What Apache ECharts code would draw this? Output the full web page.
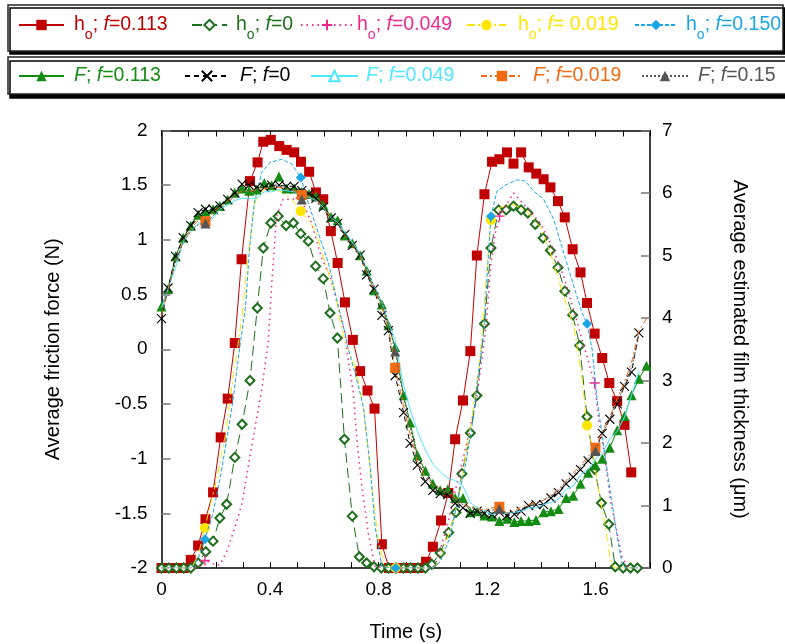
<!DOCTYPE html>
<html><head><meta charset="utf-8">
<script src="https://cdn.jsdelivr.net/npm/echarts@6/dist/echarts.min.js"></script>
<style>html,body{margin:0;padding:0;background:#fff}#c{width:785px;height:644px}</style>
</head><body><div id="c"></div>
<script>
const FONT = "'Liberation Sans', Arial, Helvetica, sans-serif";

// ---------- tick labels ----------
const xTickValues = [0, 0.4, 0.8, 1.2, 1.6];
const xTickLabels = ['0', '0.4', '0.8', '1.2', '1.6'];

// ---------- film thickness h_o (right axis, µm) ----------
const redT = [0,0.027,0.055,0.082,0.108,0.135,0.162,0.19,0.218,0.244,0.27,0.295,0.326,0.354,0.375,0.403,0.434,0.461,0.489,0.514,0.544,0.569,0.596,0.624,0.649,0.676,0.705,0.732,0.759,0.785,0.812,0.838,0.865,0.892,0.92,0.947,0.975,1.0,1.03,1.057,1.082,1.111,1.138,1.162,1.19,1.218,1.245,1.273,1.297,1.325,1.353,1.381,1.408,1.433,1.461,1.486,1.515,1.544,1.568,1.596,1.624,1.65,1.679,1.706,1.731];
const redH = [0,0,0,0,0.13,0.36,0.78,1.21,2.09,2.71,3.6,4.94,6.19,6.49,6.82,6.85,6.75,6.69,6.65,6.5,6.34,6.01,5.9,5.39,4.88,4.25,3.65,3.15,2.84,2.55,0.38,0,0,0,0,0,0.1,0.34,0.76,1.2,2.06,2.68,3.47,5.0,5.98,6.5,6.54,6.65,6.47,6.65,6.41,6.31,6.22,6.09,5.87,5.61,5.1,4.73,4.24,3.75,3.36,2.96,2.67,2.29,1.53];

const grnT = [0,0.027,0.055,0.082,0.108,0.135,0.163,0.19,0.215,0.24,0.27,0.297,0.326,0.353,0.375,0.403,0.43,0.459,0.486,0.513,0.541,0.568,0.596,0.621,0.648,0.674,0.703,0.729,0.756,0.783,0.81,0.837,0.864,0.891,0.918,0.945,0.972,0.996,1.027,1.058,1.085,1.107,1.138,1.162,1.19,1.214,1.242,1.27,1.297,1.325,1.35,1.377,1.406,1.433,1.461,1.486,1.515,1.541,1.568,1.596,1.621,1.648,1.672,1.701,1.728,1.754];
const grnH = [0,0,0,0,0,0.08,0.26,0.43,0.8,1.02,1.77,2.3,3.0,4.16,5.12,5.52,5.63,5.48,5.52,5.35,5.23,4.83,4.63,4.08,3.68,2.06,0.83,0.18,0.08,0.02,0,0,0,0,0,0,0,0.06,0.24,0.57,0.89,1.51,2.16,2.76,3.91,5.12,5.73,5.73,5.79,5.73,5.68,5.5,5.28,5.08,4.81,4.43,4.05,3.56,2.42,1.58,1.04,0.7,0.02,0,0,0];

const pinkT = [0,0.135,0.16,0.2,0.215,0.24,0.27,0.297,0.332,0.369,0.393,0.408,0.424,0.448,0.48,0.513,0.553,0.59,0.621,0.649,0.676,0.686,0.707,0.72,0.738,0.762,0.787,0.87,1.001,1.015,1.052,1.089,1.131,1.162,1.187,1.197,1.214,1.23,1.246,1.297,1.347,1.396,1.433,1.482,1.519,1.55,1.596,1.611,1.63,1.654,1.679,1.697,1.72,1.754];
const pinkH = [0,0,0.12,0.05,0.05,0.26,0.64,1.04,1.94,2.85,3.6,4.67,5.63,5.9,5.9,5.92,5.52,4.96,4.67,4.21,3.76,3.39,2.8,2.05,1.3,0.56,0.02,0,0,0.13,0.66,1.36,2.1,2.75,3.55,3.92,4.88,5.36,5.63,6.0,5.76,5.52,5.2,4.67,4.13,3.65,2.96,2.37,1.89,1.09,0.56,0.18,0,0];
const pinkMarks = [0.16,0.513,0.87,1.246,1.596];

const yelT = [0,0.11,0.135,0.16,0.178,0.203,0.234,0.256,0.277,0.297,0.314,0.334,0.351,0.381,0.437,0.48,0.513,0.566,0.603,0.64,0.664,0.683,0.713,0.744,0.775,0.8,0.824,0.863,1.0,1.027,1.064,1.094,1.125,1.144,1.168,1.181,1.197,1.214,1.248,1.296,1.348,1.396,1.433,1.482,1.519,1.531,1.55,1.568,1.587,1.61,1.636,1.654,1.669,1.754];
const yelH = [0,0,0.2,0.64,0.98,1.41,2.1,2.8,3.44,4.03,4.78,5.58,5.95,6.06,6.03,5.9,5.71,5.42,4.88,4.4,3.81,3.55,3.23,2.58,1.3,0.4,0.02,0,0,0.13,0.61,1.09,1.89,2.42,3.17,3.71,4.67,5.57,5.77,5.82,5.7,5.45,5.04,4.35,3.87,3.55,3.01,2.28,1.94,1.25,0.66,0.13,0,0];
const yelMarks = [0.16,0.513,0.863,1.214,1.568];

const bluT = [0,0.11,0.135,0.16,0.19,0.215,0.24,0.262,0.289,0.31,0.323,0.342,0.369,0.4,0.443,0.48,0.513,0.541,0.578,0.615,0.646,0.676,0.689,0.713,0.744,0.769,0.787,0.812,0.863,1.0,1.027,1.064,1.094,1.119,1.144,1.168,1.187,1.205,1.214,1.236,1.273,1.31,1.341,1.371,1.408,1.445,1.482,1.519,1.55,1.568,1.587,1.605,1.63,1.654,1.679,1.697,1.71,1.754];
const bluH = [0,0,0.15,0.46,0.88,1.41,2.05,2.64,3.55,4.19,5.04,5.84,6.33,6.49,6.54,6.46,6.25,5.84,5.36,4.88,4.29,3.76,3.49,3.12,2.58,1.62,0.66,0.02,0,0,0.1,0.5,1.14,1.62,2.26,3.12,3.76,5.04,5.63,6.03,6.14,6.21,6.19,6.03,5.9,5.58,5.04,4.51,4.08,3.91,3.49,2.69,1.94,1.2,0.5,0.08,0,0];
const bluMarks = [0.16,0.513,0.863,1.214,1.568];

// ---------- friction force F (left axis, N) ----------
const tF = [0,0.024,0.052,0.08,0.108,0.135,0.162,0.19,0.215,0.244,0.27,0.297,0.323,0.351,0.379,0.406,0.433,0.461,0.489,0.517,0.544,0.569,0.596,0.625,0.649,0.676,0.703,0.732,0.756,0.783,0.812,0.836,0.861,0.892,0.916,0.943,0.972,1.0,1.027,1.055,1.082,1.111,1.138,1.163,1.19,1.218,1.245,1.273,1.3,1.325,1.353,1.38,1.408,1.435,1.463,1.491,1.517,1.544,1.572,1.599,1.624,1.652,1.679,1.706,1.732,1.759,1.787];
const F113 = [0.39,0.55,0.85,1.02,1.13,1.23,1.26,1.28,1.31,1.37,1.43,1.47,1.45,1.46,1.52,1.5,1.58,1.47,1.47,1.44,1.42,1.4,1.32,1.21,1.18,1.04,0.97,0.86,0.72,0.54,0.41,0.22,0.02,-0.42,-0.67,-0.97,-1.11,-1.23,-1.29,-1.28,-1.36,-1.36,-1.49,-1.48,-1.52,-1.53,-1.57,-1.55,-1.58,-1.57,-1.57,-1.56,-1.49,-1.48,-1.46,-1.36,-1.34,-1.23,-1.13,-1.06,-1.0,-0.9,-0.74,-0.61,-0.42,-0.27,-0.15];
const F0 = [0.28,0.56,0.85,1.02,1.13,1.25,1.28,1.28,1.31,1.37,1.43,1.51,1.5,1.48,1.48,1.5,1.5,1.49,1.49,1.45,1.42,1.38,1.3,1.2,1.15,1.05,0.95,0.86,0.68,0.55,0.31,0.17,-0.24,-0.58,-0.86,-1.06,-1.21,-1.29,-1.32,-1.33,-1.41,-1.45,-1.5,-1.48,-1.5,-1.51,-1.49,-1.52,-1.51,-1.48,-1.43,-1.42,-1.42,-1.36,-1.31,-1.23,-1.17,-1.1,-1.02,-0.92,-0.77,-0.64,-0.5,-0.34,-0.21,0.15];
const F049 = [0.38,0.55,0.75,0.98,1.08,1.15,1.16,1.2,1.28,1.32,1.36,1.38,1.38,1.38,1.44,1.44,1.46,1.45,1.44,1.4,1.39,1.36,1.3,1.2,1.16,1.07,0.98,0.87,0.74,0.58,0.43,0.25,0.08,-0.33,-0.55,-0.75,-0.92,-1.05,-1.12,-1.18,-1.2,-1.25,-1.4,-1.45,-1.48,-1.51,-1.5,-1.5,-1.49,-1.48,-1.45,-1.45,-1.42,-1.4,-1.37,-1.28,-1.25,-1.15,-1.1,-1.0,-0.95,-0.82,-0.75,-0.62,-0.42,-0.2];
const F019 = [0.3,0.55,0.8,1.0,1.1,1.18,1.17,1.25,1.3,1.36,1.4,1.45,1.44,1.46,1.47,1.48,1.48,1.47,1.45,1.41,1.4,1.37,1.3,1.2,1.14,1.04,0.95,0.85,0.7,0.55,0.38,0.2,-0.17,-0.52,-0.78,-1.02,-1.17,-1.24,-1.27,-1.32,-1.36,-1.42,-1.44,-1.46,-1.47,-1.45,-1.44,-1.5,-1.48,-1.44,-1.42,-1.4,-1.38,-1.33,-1.28,-1.2,-1.13,-1.06,-0.98,-0.9,-0.75,-0.62,-0.45,-0.3,-0.12,0.17,0.28];
const F150 = [0.33,0.55,0.8,0.98,1.08,1.14,1.15,1.22,1.28,1.34,1.4,1.44,1.45,1.47,1.48,1.48,1.49,1.48,1.44,1.37,1.38,1.35,1.28,1.2,1.14,1.05,0.96,0.87,0.73,0.58,0.42,0.25,-0.02,-0.45,-0.72,-0.98,-1.14,-1.23,-1.28,-1.31,-1.37,-1.42,-1.45,-1.47,-1.48,-1.47,-1.46,-1.5,-1.49,-1.46,-1.43,-1.41,-1.38,-1.34,-1.29,-1.21,-1.15,-1.08,-1.0,-0.93,-0.78,-0.64,-0.48,-0.33,-0.17,0.12];
const fMarks = [0.162,0.517,0.861,1.245,1.599];

// ---------- legend text ----------
const seriesNames = ['ho113','ho0','ho049','ho019','ho150','F113','F0','F049','F019','F150'];
const legendTexts = [
  '{n|h}{sub|o}{n|; }{it|f}{n|=0.113}',
  '{n|h}{sub|o}{n|; }{it|f}{n|=0}',
  '{n|h}{sub|o}{n|; }{it|f}{n|=0.049}',
  '{n|h}{sub|o}{n|; }{it|f}{n|= 0.019}',
  '{n|h}{sub|o}{n|; }{it|f}{n|=0.150}',
  '{it|F}{n|; }{it|f}{n|=0.113}',
  '{it|F}{n|; }{it|f}{n|=0}',
  '{it|F}{n|; }{it|f}{n|=0.049}',
  '{it|F}{n|; }{it|f}{n|=0.019}',
  '{it|F}{n|; }{it|f}{n|=0.15}'
];

// ---------- helpers ----------
function pairs(t, v) {
  const n = Math.min(t.length, v.length), out = [];
  for (let i = 0; i < n; i++) out.push([t[i], v[i]]);
  return out;
}
function sparse(t, v, marks) {
  return pairs(t, v).map(p => marks.some(m => Math.abs(m - p[0]) < 0.004) ? { value: p } : { value: p, symbol: 'none' });
}
const PLUS = 'path://M5,0V10M0,5H10';
const CROSS = 'path://M0,0L10,10M10,0L0,10';

const styles = [
  { c: '#C00000', y: 1, type: 'solid', w: 1, sym: 'rect', size: 10 },
  { c: '#1E6E1E', y: 1, type: [10, 5], w: 1, sym: 'emptyDiamond', size: 9, bw: 1 },
  { c: '#F0288C', y: 1, type: [1.5, 4], w: 1.5, sym: PLUS, size: 10, bw: 1.3 },
  { c: '#FFE600', y: 1, type: [8, 3, 2, 3], w: 1, sym: 'circle', size: 10 },
  { c: '#1AA6E6', y: 1, type: [4, 2], w: 1, sym: 'diamond', size: 10 },
  { c: '#148C14', y: 0, type: 'solid', w: 1, sym: 'triangle', size: 10 },
  { c: '#000000', y: 0, type: [5, 4], w: 1, sym: CROSS, size: 9, bw: 1.1 },
  { c: '#4FE6FF', y: 0, type: 'solid', w: 1, sym: 'emptyTriangle', size: 9, bw: 1 },
  { c: '#F26A12', y: 0, type: [6, 3, 2, 3], w: 1, sym: 'rect', size: 10 },
  { c: '#555555', y: 0, type: [2, 2], w: 1, sym: 'triangle', size: 10 }
];
const textColors = ['#C00000','#1E6E1E','#F0288C','#FFE600','#1AA6E6','#148C14','#000000','#4FE6FF','#F26A12','#555555'];

const dataSets = [
  pairs(redT, redH),
  pairs(grnT, grnH),
  sparse(pinkT, pinkH, pinkMarks),
  sparse(yelT, yelH, yelMarks),
  sparse(bluT, bluH, bluMarks),
  pairs(tF, F113),
  pairs(tF, F0),
  sparse(tF, F049, []),
  sparse(tF, F019, fMarks),
  sparse(tF, F150, fMarks)
];

const series = seriesNames.map((name, i) => {
  const s = styles[i];
  return {
    name, type: 'line', yAxisIndex: s.y, data: dataSets[i],
    symbol: s.sym, symbolSize: s.size, showAllSymbol: true,
    lineStyle: { color: s.c, width: s.w, type: s.type },
    itemStyle: { color: s.c, borderColor: s.c, borderWidth: s.bw || 0 },
    emphasis: { disabled: true }, silent: true, z: 2 + i * 0.01
  };
});

// legend layout [left, iconWidth, textGap, top]
const legendPos = [
  [18, 45, 10, 15], [191, 35, 9, 15], [300, 52, 4, 15], [466, 39, 12, 15], [634, 42, 9, 15],
  [18, 45, 10, 66], [184, 44, 11, 66], [310, 47, 8, 66], [480, 42, 10, 66], [641, 46, 10, 66]
];
const legends = seriesNames.map((name, i) => ({
  data: [name], left: legendPos[i][0], top: legendPos[i][3],
  itemWidth: legendPos[i][1], itemHeight: 13, selectedMode: false, padding: 0,
  formatter: () => legendTexts[i],
  textStyle: {
    color: textColors[i], fontFamily: FONT, fontSize: 19.5, padding: [0, 0, 0, legendPos[i][2] - 5],
    rich: {
      n: { fontSize: 19.5, fontFamily: FONT, color: textColors[i] },
      it: { fontSize: 19.5, fontFamily: FONT, fontStyle: 'italic', color: textColors[i] },
      sub: { fontSize: 14, fontFamily: FONT, color: textColors[i], padding: [21, 0, 0, 0] }
    }
  }
}));

const axisFont = { color: '#000', fontSize: 19, fontFamily: FONT };
const nameFont = { color: '#000', fontSize: 20, fontFamily: FONT };

const option = {
  animation: false,
  backgroundColor: '#fff',
  graphic: [
    { type: 'rect', z: -10, shape: { x: 8, y: 5, width: 775, height: 46 },
      style: { fill: '#fff', stroke: '#222', lineWidth: 1.5, shadowColor: '#000', shadowOffsetX: 2, shadowOffsetY: 3, shadowBlur: 0 } },
    { type: 'rect', z: -10, shape: { x: 8, y: 57, width: 800, height: 37 },
      style: { fill: '#fff', stroke: '#222', lineWidth: 1.5, shadowColor: '#000', shadowOffsetX: 2, shadowOffsetY: 4, shadowBlur: 0 } }
  ],
  legend: legends,
  grid: { left: 161.5, top: 130.5, width: 488.5, height: 437.5, containLabel: false, outerBoundsMode: 'none' },
  xAxis: [
    {
      type: 'value', min: 0, max: 1.8, interval: 0.1, position: 'bottom',
      axisLine: { show: true, onZero: false, lineStyle: { color: '#000', width: 1.5 } },
      axisTick: { show: true, inside: true, length: 6, lineStyle: { color: '#000', width: 1 } },
      axisLabel: {
        ...axisFont, margin: 12,
        formatter: v => { const k = xTickValues.findIndex(x => Math.abs(x - v) < 1e-6); return k >= 0 ? xTickLabels[k] : ''; }
      },
      splitLine: { show: false },
      name: 'Time (s)', nameLocation: 'middle', nameGap: 54, nameTextStyle: nameFont
    },
    {
      type: 'value', min: 0, max: 1.8, interval: 0.1, position: 'top',
      axisLine: { show: true, onZero: false, lineStyle: { color: '#000', width: 1.5 } },
      axisTick: { show: true, inside: true, length: 6, lineStyle: { color: '#000', width: 1 } },
      axisLabel: { show: false }, splitLine: { show: false }
    }
  ],
  yAxis: [
    {
      type: 'value', min: -2, max: 2, interval: 0.5, position: 'left',
      axisLine: { show: true, onZero: false, lineStyle: { color: '#000', width: 1.5 } },
      axisTick: { show: true, inside: true, length: 9, lineStyle: { color: '#777', width: 1.5 } },
      axisLabel: { ...axisFont, margin: 14 },
      splitLine: { show: false },
      name: 'Average friction force (N)', nameLocation: 'middle', nameGap: 98, nameTextStyle: nameFont
    },
    {
      type: 'value', min: 0, max: 7, interval: 1, position: 'right',
      axisLine: { show: true, onZero: false, lineStyle: { color: '#000', width: 1.5 } },
      axisTick: { show: true, inside: true, length: 9, lineStyle: { color: '#777', width: 1.5 } },
      axisLabel: { ...axisFont, margin: 12 },
      splitLine: { show: false },
      name: 'Average estimated film thickness (μm)', nameLocation: 'middle', nameRotate: -90, nameGap: 80, nameTextStyle: nameFont
    }
  ],
  series
};

const chart = echarts.init(document.getElementById('c'), null, { renderer: 'canvas' });
chart.setOption(option);
</script></body></html>
